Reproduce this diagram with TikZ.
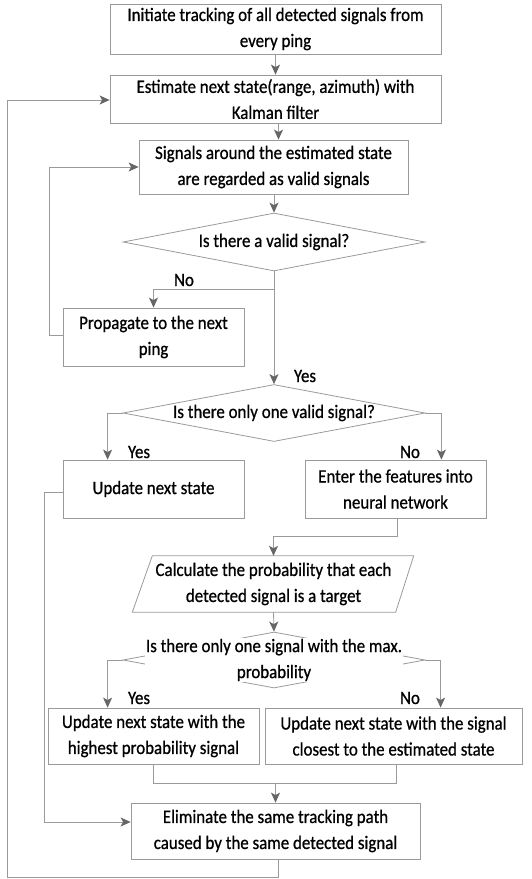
\documentclass[tikz,border=0pt]{standalone}
\usepackage{fontspec}
\setmainfont[FakeStretch=0.89,FakeBold=0.7]{Carlito}
\usetikzlibrary{arrows.meta,shapes.geometric,calc}
\definecolor{ln}{HTML}{9A9A9A}
\definecolor{ah}{HTML}{666666}
\begin{document}
\begin{tikzpicture}[x=1pt,y=-1pt,
  every node/.style={font=\fontsize{19}{26}\selectfont, text=black},
  box/.style={draw=ln, line width=0.8pt, align=center, inner sep=0pt, fill=white},
  dia/.style={draw=ln, line width=0.8pt, diamond, inner sep=0pt},
  dtext/.style={fill=white, inner sep=0.5pt, align=center},
  plain/.style={inner sep=0pt, align=center},
  conn/.style={draw=ln, line width=0.8pt},
  arr/.style={conn, -{Stealth[length=10pt,width=9pt,inset=2.5pt,color=ah]}},
  lbl/.style={inner sep=0pt}]
\useasboundingbox (0,0) rectangle (531,879);

% nodes
\node[box, minimum width=331pt, minimum height=50pt] (b1) at (275.5,29)
  {Initiate tracking of all detected signals from\\every ping};
\node[box, minimum width=331pt, minimum height=48pt] (b2) at (275.5,99)
  {Estimate next state(range, azimuth) with\\Kalman filter};
\node[box, minimum width=269pt, minimum height=54pt] (b3) at (273.5,167)
  {Signals around the estimated state\\are regarded as valid signals};
\node[dia, minimum width=302pt, minimum height=58pt] (d1) at (274,242) {};
\node[plain] (d1t) at (d1) {Is there a valid signal?};
\node[box, minimum width=181pt, minimum height=58pt] (prop) at (153.5,337)
  {Propagate to the next\\ping};
\node[dia, minimum width=302pt, minimum height=57pt] (d2) at (274,413) {};
\node[dtext] (d2t) at (d2) {Is there only one valid signal?};
\node[box, minimum width=181pt, minimum height=58pt] (upd) at (153.5,489)
  {Update next state};
\node[box, minimum width=181pt, minimum height=58pt] (ent) at (395.5,489)
  {Enter the features into\\neural network};
\node[plain, minimum width=262pt, minimum height=56pt] (par) at (273.5,584)
  {Calculate the probability that each\\detected signal is a target};
\draw[conn] ($(par.north west)+(10,0)$) -- ($(par.north east)+(9,0)$)
  -- ($(par.south east)+(-9,0)$) -- ($(par.south west)+(-10,0)$) -- cycle;
\node[dia, minimum width=302pt, minimum height=56pt] (d3) at (274,660) {};
\node[dtext] (d3t) at (d3) {Is there only one signal with the max.\\probability};
\node[box, minimum width=211pt, minimum height=56pt] (bl) at (153.5,736)
  {Update next state with the\\highest probability signal};
\node[box, minimum width=257pt, minimum height=56pt] (br) at (393.5,736)
  {Update next state with the signal\\closest to the estimated state};
\node[box, minimum width=289pt, minimum height=56pt] (fin) at (275.5,831)
  {Eliminate the same tracking path\\caused by the same detected signal};

% labels
\node[lbl] (lno1) at (184,280) {No};
\node[lbl] (lyes1) at (305,376) {Yes};
\node[lbl] (lyes2) at (139,452) {Yes};
\node[lbl] (lno2) at (410,452) {No};
\node[lbl] (lyes3) at (139,698) {Yes};
\node[lbl] (lno3) at (410,698) {No};

% connectors
\draw[arr] (b1.south) -- (b2.north);
\draw[arr] ([xshift=3pt]b2.south) -- ([xshift=3pt]b2.south |- b3.north);
\draw[arr] (b3.south -| d1.north) -- (d1.north);
\draw[arr] (d1.south) -- (d2.north);
\coordinate (nojoin) at ($(d1.south)+(0,18)$);
\draw[arr] (nojoin) -| (prop.north);
\draw[arr] ([yshift=2pt]prop.west) -- ++(-13,0) |- (b3.west);
\draw[arr] (d2.west) -| ([xshift=45pt]upd.north west);
\draw[arr] (d2.east) -| ([xshift=-45pt]ent.north east);
\draw[arr] ([xshift=1.5pt]ent.south) -- ++(0,18) -| (par.north);
\draw[arr] (par.south) -- (d3.north);
\draw[arr] (d3.west) -| ([xshift=60pt]bl.north west);
\draw[arr] (d3.east) -| ([xshift=176pt]br.north west);
\coordinate (mg) at ($(bl.south)+(0,19)$);
\draw[conn] (bl.south) -- (mg) -| ([xshift=2.5pt]br.south);
\draw[arr] (mg -| fin.north) -- (fin.north);
\draw[arr] ([yshift=-3pt]upd.west) -- ++(-18,0) |- ([yshift=9pt]fin.west);
\coordinate (lb) at (7,877);
\draw[arr] ([xshift=2.5pt]fin.south) |- (lb) |- ([yshift=-1pt]b2.west);
\end{tikzpicture}
\end{document}
